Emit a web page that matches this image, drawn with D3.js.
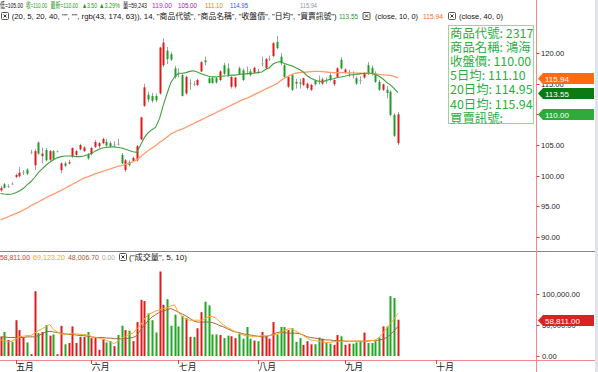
<!DOCTYPE html>
<html><head><meta charset="utf-8">
<script src="https://cdn.jsdelivr.net/npm/d3@7"></script>
<style>body{margin:0;background:#fff}svg{display:block;font-family:"Liberation Sans",Arial,"Noto Sans CJK TC",sans-serif}</style>
</head><body><svg width="598" height="372"></svg>
<script>
// 2317 鴻海 daily K-line
var opens = [97.6,98.6,98.2,98.7,99.8,99.9,100.5,101.0,103.8,101.7,
  105.4,103.2,104.2,102.6,104.0,103.9,100.9,102.0,102.0,103.1,
  103.4,104.3,104.0,103.4,103.5,104.7,104.8,105.3,105.5,105.3,
  105.0,105.2,103.4,100.9,102.2,102.4,102.5,105.9,111.4,113.2,
  113.0,113.0,113.4,118.0,120.4,119.8,117.5,116.6,116.4,113.4,
  115.0,115.0,114.8,117.0,118.8,115.9,115.9,115.9,115.6,118.0,
  117.5,114.5,114.5,117.5,117.2,117.0,117.0,116.8,117.0,118.2,
  117.5,119.0,119.5,121.8,119.4,118.0,114.5,116.4,115.3,115.2,
  114.8,114.3,114.0,115.5,115.5,115.0,115.5,116.4,114.9,116.1,
  118.9,116.8,116.7,116.4,115.9,115.6,116.0,118.0,117.6,116.7,
  115.3,114.0,114.0,113.7,109.9,105.3];
var highs = [98.3,98.8,98.6,98.9,100.3,101.4,100.9,101.2,104.2,104.3,
  105.6,104.6,104.5,104.2,104.2,104.1,102.2,102.3,102.6,104.6,
  104.2,105.2,104.8,103.7,104.7,105.8,105.5,106.2,106.0,105.6,
  105.6,106.0,103.7,102.7,102.5,103.1,105.0,109.6,115.0,113.7,
  113.5,113.4,121.0,122.4,121.0,120.1,117.9,117.5,116.7,116.3,
  115.7,115.4,115.8,118.7,119.4,116.2,116.2,116.1,117.2,118.4,
  118.3,116.3,116.1,117.8,117.5,117.8,117.4,117.8,117.4,119.4,
  119.2,119.6,121.8,122.8,120.0,118.3,116.3,116.6,115.8,115.8,
  116.0,115.2,115.0,115.7,116.3,116.0,116.0,116.7,115.7,117.7,
  119.3,117.5,117.3,117.0,116.2,116.2,116.9,118.5,118.0,117.0,
  115.6,115.0,114.6,113.9,110.2,110.4];
var lows = [97.4,97.9,98.0,98.5,99.6,99.7,100.1,100.1,103.5,100.9,
  103.4,102.0,102.3,102.4,102.5,103.8,100.4,101.4,101.8,102.9,
  103.2,104.1,103.9,102.6,103.3,104.5,104.5,105.1,104.7,104.6,
  104.6,104.9,101.9,100.6,101.5,102.3,102.3,105.8,111.2,112.0,
  111.9,112.0,113.2,117.7,118.2,118.7,115.8,116.0,112.9,113.2,
  114.0,114.6,114.6,116.9,118.0,115.0,115.0,115.0,115.4,116.4,
  116.1,114.2,114.2,116.4,115.4,116.5,116.2,116.6,116.6,117.8,
  117.3,118.7,119.3,120.6,118.0,115.9,114.3,113.8,114.2,114.2,
  114.6,114.0,113.8,114.7,114.9,114.8,115.0,115.4,114.6,116.0,
  117.3,116.6,116.1,115.8,114.8,114.9,115.8,116.4,116.3,115.1,
  113.8,113.8,112.6,109.7,106.3,105.0];
var closes = [98.0,98.0,98.3,98.7,100.1,100.5,100.6,100.3,103.9,104.0,
  103.6,103.6,102.5,104.0,102.6,104.0,102.0,101.6,102.2,104.5,
  104.0,105.0,104.6,102.8,104.5,105.5,105.3,106.0,104.9,104.8,
  105.1,105.2,102.0,102.5,101.7,102.9,104.8,109.5,114.4,112.4,
  112.2,112.3,120.9,121.7,119.0,118.9,116.1,116.5,113.0,116.1,
  115.1,114.9,115.6,118.5,118.5,115.1,115.1,115.2,117.0,116.6,
  116.3,116.1,116.0,116.6,115.6,117.0,116.4,117.6,117.0,118.3,
  119.0,119.1,121.6,120.8,118.3,116.1,116.1,114.0,115.0,115.0,
  115.9,115.0,114.8,114.9,115.3,115.7,115.4,115.6,115.6,117.5,
  117.5,117.3,116.8,116.3,115.0,115.5,116.7,116.6,116.6,115.3,
  114.0,114.9,113.5,109.9,106.5,110.0];
var volumes = [31000,39000,26000,23000,58000,42000,30000,22000,3000,105000,
  37000,39000,50000,33000,35000,3000,49000,19000,21000,48000,
  21000,31000,31000,39000,29000,31000,10000,28000,22000,24000,
  16000,34000,49000,42000,41000,24000,55000,91000,89000,69000,
  58000,38000,137000,83000,92000,49000,67000,48000,65000,61000,
  31000,31000,45000,71000,88000,82000,35000,35000,34000,29000,
  33000,32000,29000,36000,28000,47000,28000,25000,24000,39000,
  32000,28000,55000,35000,47000,47000,42000,45000,23000,29000,
  18000,24000,19000,19000,30000,28000,21000,20000,18000,34000,
  32000,18000,20000,20000,22000,24000,38000,21000,21000,24000,
  30000,48000,48000,97000,94000,58811];
var ma10 = [97.1,97.0,96.95,97.0,97.2,97.5,97.9,98.5,99.0,99.7,
  100.5,101.1,101.7,102.2,102.6,102.9,103.1,103.2,103.2,103.2,
  103.1,103.1,103.2,103.4,103.6,104.0,104.3,104.5,104.6,104.7,
  104.7,104.6,104.5,104.3,104.1,103.9,103.8,105.0,106.2,107.0,
  107.5,107.9,109.3,111.5,113.4,115.2,116.1,116.7,116.7,116.8,
  117.0,117.1,116.9,116.6,116.4,116.2,116.1,116.1,116.2,116.25,
  116.3,116.4,116.4,116.5,116.6,116.6,116.7,116.7,116.8,116.9,
  117.3,117.6,118.2,118.5,118.6,118.3,118.1,117.9,117.6,117.3,
  116.9,116.3,115.9,115.6,115.4,115.3,115.5,115.7,115.8,116.0,
  116.1,116.2,116.4,116.45,116.5,116.6,116.65,116.7,116.7,116.5,
  116.2,115.8,115.2,114.8,114.2,113.55];
var ma40 = [92.8,93.05,93.3,93.55,93.8,94.05,94.4,94.7,95.1,95.4,
  95.7,96.05,96.4,96.7,97.0,97.3,97.6,97.9,98.25,98.6,
  98.9,99.25,99.6,99.8,100.05,100.3,100.5,100.7,100.9,101.1,
  101.3,101.5,101.65,101.85,102.05,102.25,102.6,103.1,103.6,104.1,
  104.5,104.9,105.4,105.8,106.3,106.8,107.1,107.4,107.6,107.9,
  108.2,108.5,108.8,109.1,109.4,109.7,110.0,110.3,110.6,110.9,
  111.2,111.5,111.8,112.1,112.4,112.6,112.9,113.2,113.5,113.8,
  114.1,114.4,114.7,115.0,115.5,115.9,116.2,116.5,116.7,116.8,
  116.85,116.9,116.95,117.0,117.0,116.95,116.9,116.85,116.8,116.8,
  116.8,116.8,116.75,116.75,116.7,116.7,116.7,116.7,116.65,116.6,
  116.5,116.45,116.4,116.35,116.2,115.94];
var volMa5 = [26000,25000,23000,24000,27000,31000,32000,33000,33000,37000,
  41000,44000,48000,51000,43000,39000,36000,35000,36000,36000,
  36000,35000,35000,34000,32000,30000,29000,27000,25000,23000,
  20000,24000,29000,32000,35000,37000,44000,50000,60000,67000,
  70000,73000,75000,77000,78000,81000,83000,70000,64000,60000,
  58000,58000,58000,58000,60000,64000,64000,61000,55000,50000,
  46000,43000,39000,37000,34000,33000,32000,32000,32000,33000,
  33000,33000,34000,35000,38000,41000,44000,44000,40000,37000,
  33000,29000,26000,25000,24000,23000,22000,22000,23000,24000,
  24000,24000,24000,24000,24000,24000,24000,25000,25000,26000,
  30000,37000,45000,53000,60000,69123.2];
var volMa10 = [31000,31000,30000,30000,30000,30000,30000,31000,31000,31000,
  33000,36000,39000,40000,39000,38000,37000,36000,35000,35000,
  34000,33000,33000,32000,31000,30000,30000,30000,29000,29000,
  28000,28000,28000,28000,29000,30000,33000,42000,50000,57000,
  63000,67000,71000,73000,75000,77000,74000,71000,68000,65000,
  61000,57000,55000,55000,55000,55000,54000,52000,49000,47000,
  44000,41000,39000,38000,36000,35000,34000,33000,32000,31000,
  31000,33000,35000,38000,39000,38000,37000,37000,37000,36000,
  34000,31000,30000,29000,28000,27000,26000,26000,25000,25000,
  25000,24000,24000,24000,24000,24000,24000,24000,25000,25000,
  26000,27000,30000,35000,41000,48006.7];
var monthLabels = ["五月","六月","七月","八月","九月","十月"];
var monthStart = [4, 24, 47, 68, 91, 115];
var priceTicks = [90, 95, 100, 105, 110, 115, 120];
var volTicks = [0, 50000, 100000];

var svg = d3.select("svg"),
    axisX = 536.5,
    red = "#e01818", green = "#1e9e28";

var x = d3.scaleLinear().domain([0, 105]).range([0.5, 398]);
var y = d3.scaleLinear().domain([90, 120]).range([237, 53]);
var yv = d3.scaleLinear().domain([0, 100000]).range([356, 294.3]);
var f2 = d3.format(".2f"), fv = d3.format(",.2f");

svg.append("clipPath").attr("id", "pc").append("rect")
    .attr("x", 0).attr("y", 22).attr("width", 536).attr("height", 228);
svg.append("clipPath").attr("id", "vc").append("rect")
    .attr("x", 0).attr("y", 262).attr("width", 536).attr("height", 98);

// scrollbar strip on the right
svg.append("rect").attr("x", 595).attr("y", 0).attr("width", 3).attr("height", 372).attr("fill", "#dfe3ea");

// ---- price panel
var gp = svg.append("g").attr("clip-path", "url(#pc)");
var candle = gp.selectAll("g.c").data(closes).enter().append("g");
candle.append("line")
    .attr("x1", function(d, i) { return Math.round(x(i)) + 0.5; })
    .attr("x2", function(d, i) { return Math.round(x(i)) + 0.5; })
    .attr("y1", function(d, i) { return y(highs[i]); })
    .attr("y2", function(d, i) { return y(lows[i]); })
    .attr("stroke", "#a0a0a0").attr("stroke-width", 1);
candle.append("rect")
    .attr("x", function(d, i) { return Math.round(x(i)) - 0.5; })
    .attr("width", 2)
    .attr("y", function(d, i) { return Math.min(y(opens[i]), y(d)); })
    .attr("height", function(d, i) { return Math.max(1, Math.abs(y(opens[i]) - y(d))); })
    .attr("fill", function(d, i) {
      if (Math.abs(d - opens[i]) < 0.15) return "#a0a0a0";
      return d > opens[i] ? red : green; });

var line = d3.line().x(function(d, i) { return x(i); }).y(function(d) { return y(d); });
gp.append("path").datum(ma40).attr("fill", "none").attr("stroke", "#ff9c6e")
    .attr("stroke-width", 1.3).attr("d", line);
gp.append("path").datum(ma10).attr("fill", "none").attr("stroke", "#3fa03f")
    .attr("stroke-width", 1.1).attr("d", line);

// ---- volume panel
var gv = svg.append("g").attr("clip-path", "url(#vc)");
gv.selectAll("rect").data(volumes).enter().append("rect")
    .attr("x", function(d, i) { return Math.round(x(i)) - 0.5; })
    .attr("width", 2)
    .attr("y", function(d) { return yv(d); })
    .attr("height", function(d) { return yv(0) - yv(d); })
    .attr("fill", function(d, i) { return closes[i] > opens[i] ? "#dc1c1c" : "#22a822"; });
var vline = d3.line().x(function(d, i) { return x(i); }).y(function(d) { return yv(d); });
gv.append("path").datum(volMa10).attr("fill", "none").attr("stroke", "#a5683a").attr("stroke-width", 1).attr("d", vline);
gv.append("path").datum(volMa5).attr("fill", "none").attr("stroke", "#ffa726").attr("stroke-width", 1).attr("d", vline);

// panel separator, axes
svg.append("line").attr("x1", 0).attr("x2", 595).attr("y1", 251.5).attr("y2", 251.5).attr("stroke", "#8a8a8a");
svg.append("line").attr("x1", axisX).attr("x2", axisX).attr("y1", 0).attr("y2", 372).attr("stroke", "#f48a8a");
svg.append("line").attr("x1", 0).attr("x2", 595).attr("y1", 360.5).attr("y2", 360.5).attr("stroke", "#f48a8a");

var pt = svg.append("g").selectAll("g").data(priceTicks).enter().append("g");
pt.append("line").attr("x1", axisX).attr("x2", axisX + 3).attr("y1", function(d) { return Math.round(y(d)) + 0.5; })
    .attr("y2", function(d) { return Math.round(y(d)) + 0.5; }).attr("stroke", "#e04040");
pt.append("text").attr("x", 541).attr("y", function(d) { return y(d) + 3; })
    .attr("font-size", "7.6px").attr("fill", "#222").text(function(d) { return f2(d); });

var vt = svg.append("g").selectAll("g").data(volTicks).enter().append("g");
vt.append("line").attr("x1", axisX).attr("x2", axisX + 3).attr("y1", function(d) { return Math.round(yv(d)) + 0.5; })
    .attr("y2", function(d) { return Math.round(yv(d)) + 0.5; }).attr("stroke", "#e04040");
vt.append("text").attr("x", 542).attr("y", function(d) { return yv(d) + 3; })
    .attr("font-size", "7.6px").attr("fill", "#222").text(function(d) { return fv(d); });

var mt = svg.append("g").selectAll("g").data(monthLabels).enter().append("g");
mt.append("line").attr("x1", function(d, i) { return Math.round(x(monthStart[i])) + 0.5; })
    .attr("x2", function(d, i) { return Math.round(x(monthStart[i])) + 0.5; })
    .attr("y1", 360).attr("y2", 364).attr("stroke", "#e04040");
mt.append("text").attr("x", function(d, i) { return x(monthStart[i]) + 0.5; }).attr("y", 369.5)
    .attr("font-family", "Noto Sans CJK TC").attr("font-size", "8.8px").attr("fill", "#222").text(function(d) { return d; });

// value tags on the axis
function tag(v, yy, bg, label) {
  var g = svg.append("g"), yc = Math.round(yy) + 0.5;
  g.append("path").attr("d", "M538," + yc + "L543," + (yc - 5.5) + "L594," + (yc - 5.5) + "L594," + (yc + 5.5) + "L543," + (yc + 5.5) + "Z")
    .attr("fill", bg);
  g.append("text").attr("x", 545).attr("y", yc + 3).attr("font-size", "8px").attr("fill", "#fff").text(label);
}
tag(ma40[105], y(ma40[105]), "#ff6a14", f2(ma40[105]));
tag(ma10[105], y(ma10[105]), "#0c7a14", f2(ma10[105]));
tag(closes[105], y(closes[105]), "#2eab3a", f2(closes[105]));
tag(volumes[105], yv(volumes[105]), "#d42424", fv(volumes[105]));

// info box
var boxLines = ["商品代號: 2317", "商品名稱: 鴻海", "收盤價: " + f2(closes[105]), "5日均: 111.10",
  "20日均: 114.95", "40日均: " + f2(ma40[105]), "買賣訊號:"];
svg.append("rect").attr("x", 448.5).attr("y", 25.5).attr("width", 85).attr("height", 98)
    .attr("fill", "#fff").attr("stroke", "#9ad49a");
svg.append("g").selectAll("text").data(boxLines).enter().append("text")
    .attr("x", 450).attr("y", function(d, i) { return 37.5 + i * 14.2; })
    .attr("font-family", "Noto Sans CJK TC, Liberation Sans").attr("font-size", "12.4px")
    .attr("fill", "rgb(43,174,63)").text(function(d) { return d; });

// header texts
function closeBox(bx, by) {
  var g = svg.append("g");
  g.append("rect").attr("x", bx + 0.5).attr("y", by + 0.5).attr("width", 7).attr("height", 7).attr("rx", 1)
    .attr("fill", "#fff").attr("stroke", "#555");
  g.append("path").attr("d", "M" + (bx + 2.5) + "," + (by + 2.5) + "l3,3M" + (bx + 5.5) + "," + (by + 2.5) + "l-3,3").attr("stroke", "#333");
}
function label(tx, ty, s, col, len) {
  var t = svg.append("text").attr("x", tx).attr("y", ty).attr("font-size", "7.5px").attr("fill", col).text(s);
  if (len) t.attr("textLength", len).attr("lengthAdjust", "spacingAndGlyphs");
}
label(0, 8, "低=105.00", "#111", 23);
label(26, 8, "收=110.00", "#1a9a1a", 21);
label(50.5, 8, "最新=110.00", "#1a9a1a", 27.5);
label(82, 8, "▲3.50", "#1a9a1a", 15);
label(99, 8, "▲3.29%", "#1a9a1a", 21);
label(123, 8, "量=59,243", "#111", 24);
label(152, 8, "119.00", "#a030c0", 20);
label(178, 8, "105.00", "#9a209a", 19);
label(205, 8, "111.10", "#ff7020", 18);
label(230, 8, "114.95", "#3050f0", 18);
label(300, 8, "115.94", "#8a94b0", 17);

closeBox(1, 12);
label(11.7, 19, "(20, 5, 20, 40, \"\", \"\", rgb(43, 174, 63)), 14, \"商品代號\", \"商品名稱\", \"收盤價\", \"日均\", \"買賣訊號\")", "#111", 325);
label(339, 19, f2(ma10[105]), "#1e9e28", 19);
closeBox(362.5, 12);
label(375, 19, "(close, 10, 0)", "#111", 43);
label(423, 19, f2(ma40[105]), "#ff6a14", 20);
closeBox(448, 12);
label(459, 19, "(close, 40, 0)", "#111", 44);

// volume legend
label(0, 260, fv(volumes[105]), "#e03030", 30);
label(33, 260, fv(volMa5[105]), "#ffa020", 32);
label(68, 260, fv(volMa10[105]), "#a0602d", 31);
label(102, 260, "0.00", "#aaa", 13);
closeBox(119, 253);
label(129, 260, "(\"成交量\", 5, 10)", "#111", 58);
</script></body></html>
